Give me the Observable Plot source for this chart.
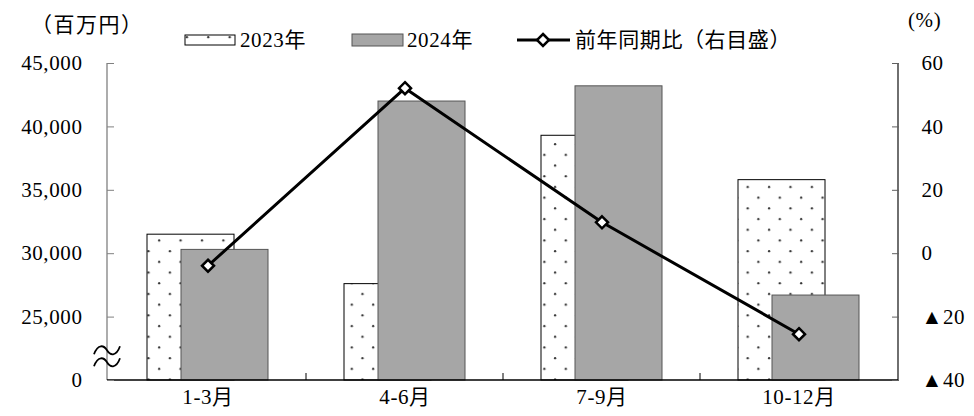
<!DOCTYPE html>
<html><head><meta charset="utf-8">
<script src="https://cdn.jsdelivr.net/npm/d3@7"></script>
<script src="https://cdn.jsdelivr.net/npm/@observablehq/plot@0.6"></script>
<style>
body{margin:0;background:#fff;}
#wrap{position:relative;width:974px;height:416px;font-family:"Liberation Serif","Noto Sans CJK JP",serif;}
#wrap svg{position:absolute;left:0;top:0;}
#wrap svg text{font-family:"Liberation Serif","Noto Sans CJK JP",serif !important;}
</style></head><body>
<div id="wrap"></div>
<script>
// ---- data ----
const quarters = ["1-3月", "4-6月", "7-9月", "10-12月"];
const sales2023 = [31500, 27600, 39300, 35800];
const sales2024 = [30300, 42000, 43200, 26700];
const yoyPct = [-3.8, 52.2, 9.9, -25.4];
const leftTicks = [20000, 25000, 30000, 35000, 40000, 45000];
const leftTickLabels = ["0", "25,000", "30,000", "35,000", "40,000", "45,000"];
const rightTicks = [-40, -20, 0, 20, 40, 60];
const rightTickLabels = ["▲40", "▲20", "0", "20", "40", "60"];
const seriesNames = ["2023年", "2024年", "前年同期比（右目盛）"];
const leftUnit = "（百万円）";
const rightUnit = "(%)";

// ---- helpers ----
const leftDomain = [20000, 45000];
const rightDomain = [-40, 60];
const toLeft = p => leftDomain[0] + (p - rightDomain[0]) * (leftDomain[1] - leftDomain[0]) / (rightDomain[1] - rightDomain[0]);
const data = quarters.map((q, i) => ({q, v23: sales2023[i], v24: sales2024[i], p: yoyPct[i]}));
const FONT = '"Liberation Serif", "Noto Sans CJK JP", serif';

const W = 974, H = 416;
const M = {top: 63, right: 76, bottom: 36, left: 107};

function dotPattern(id) {
  return `<pattern id="${id}" patternUnits="userSpaceOnUse" width="21.4" height="21.4">
    <rect width="21.4" height="21.4" fill="#fff"/>
    <circle cx="5" cy="5" r="1.15" fill="#333"/>
    <circle cx="15.7" cy="15.7" r="1.15" fill="#333"/></pattern>`;
}

const defsMark = () => {
  const g = d3.create("svg:defs");
  g.html(dotPattern("dots23"));
  return g.node();
};

const framesMark = (index, scales, values, dim) => {
  const g = d3.create("svg:g");
  const x0 = dim.marginLeft, x1 = dim.width - dim.marginRight;
  const y0 = dim.marginTop, y1 = dim.height - dim.marginBottom;
  g.append("line").attr("x1", x0).attr("x2", x0).attr("y1", y0).attr("y2", y1).attr("stroke", "#808080").attr("stroke-width", 1.3);
  g.append("line").attr("x1", x1).attr("x2", x1).attr("y1", y0).attr("y2", y1).attr("stroke", "#222").attr("stroke-width", 1.3);
  g.append("line").attr("x1", x0).attr("x2", x1).attr("y1", y1).attr("y2", y1).attr("stroke", "#000").attr("stroke-width", 1.3);
  quarters.slice(1).forEach(q => {
    const xb = scales.x(q);
    g.append("line").attr("x1", xb).attr("x2", xb).attr("y1", y1).attr("y2", y1 - 7).attr("stroke", "#000").attr("stroke-width", 1);
  });
  // axis break mark (≈) between 0 and the first labelled tick
  const yb = (scales.y(leftTicks[0]) + scales.y(leftTicks[1])) / 2 + 8;
  const wave = "M-13,4 C-9,-7 -3,-5 0,0 C3,5 9,7 13,-4";
  [-6, 6].forEach(off => {
    g.append("path").attr("d", wave).attr("transform", `translate(${x0},${yb + off})`)
      .attr("fill", "none").attr("stroke", "#000").attr("stroke-width", 1.8);
  });
  return g.node();
};

const chart = Plot.plot({
  width: W, height: H,
  marginTop: M.top, marginRight: M.right, marginBottom: M.bottom, marginLeft: M.left,
  style: {fontFamily: FONT, fontSize: "21px", letterSpacing: "0.6px", color: "#000", background: "transparent"},
  x: {type: "band", domain: quarters, padding: 0},
  y: {domain: leftDomain, clamp: true},
  marks: [
    defsMark,
    Plot.barY(data, {x: "q", y: "v23", insetLeft: 55, insetRight: 55, dx: -17, fill: "url(#dots23)", stroke: "#000", strokeWidth: 1}),
    Plot.barY(data, {x: "q", y: "v24", insetLeft: 55, insetRight: 55, dx: 17, fill: "#a6a6a6", stroke: "#555", strokeWidth: 1}),
    framesMark,
    Plot.axisY(leftTicks, {anchor: "left", tickSize: -7, tickPadding: 32, stroke: "#808080", fill: "#000", fontFamily: FONT,
      tickFormat: d => leftTickLabels[leftTicks.indexOf(d)], label: null}),
    Plot.axisY(rightTicks.map(toLeft), {anchor: "right", tickSize: -7, tickPadding: 30, stroke: "#606060", fill: "#000", fontFamily: FONT,
      tickFormat: d => rightTickLabels[rightTicks.map(toLeft).indexOf(d)], label: null}),
    Plot.axisX({tickSize: 0, tickPadding: 9, label: null, fontFamily: FONT}),
    Plot.line(data, {x: "q", y: d => toLeft(d.p), stroke: "#000", strokeWidth: 3}),
    Plot.dot(data, {x: "q", y: d => toLeft(d.p), symbol: "diamond2", r: 5.4, fill: "#fff", stroke: "#000", strokeWidth: 2.5})
  ]
});

const wrap = document.getElementById("wrap");
wrap.appendChild(chart);

// ---- overlay: units and legend ----
const ov = d3.select(wrap).append("svg").attr("width", W).attr("height", 60)
  .attr("font-family", FONT).attr("font-size", 21).attr("letter-spacing", "0.6px");
ov.append("defs").html(dotPattern("dots23L"));
ov.append("text").attr("x", 31).attr("y", 25).attr("dy", "0.35em").attr("font-size", 21).attr("letter-spacing", "1.5px").text(leftUnit);
ov.append("text").attr("x", 908).attr("y", 20).attr("dy", "0.35em").text(rightUnit);

const ly = 40;
// 2023 swatch
ov.append("rect").attr("x", 185).attr("y", ly - 5).attr("width", 50).attr("height", 10).attr("fill", "url(#dots23L)").attr("stroke", "#000").attr("stroke-width", 1);
ov.append("text").attr("x", 240).attr("y", ly).attr("dy", "0.35em").text(seriesNames[0]);
// 2024 swatch
ov.append("rect").attr("x", 352).attr("y", ly - 6).attr("width", 51).attr("height", 12).attr("fill", "#a6a6a6").attr("stroke", "#555").attr("stroke-width", 1);
ov.append("text").attr("x", 407).attr("y", ly).attr("dy", "0.35em").text(seriesNames[1]);
// line swatch
ov.append("line").attr("x1", 517).attr("x2", 570).attr("y1", ly).attr("y2", ly).attr("stroke", "#000").attr("stroke-width", 3);
ov.append("path").attr("d", d3.symbol(d3.symbolDiamond2, Math.PI * 5.4 * 5.4)()).attr("transform", `translate(543,${ly})`)
  .attr("fill", "#fff").attr("stroke", "#000").attr("stroke-width", 2.5);
ov.append("text").attr("x", 575).attr("y", ly).attr("dy", "0.35em").text(seriesNames[2]);
</script>
</body></html>
